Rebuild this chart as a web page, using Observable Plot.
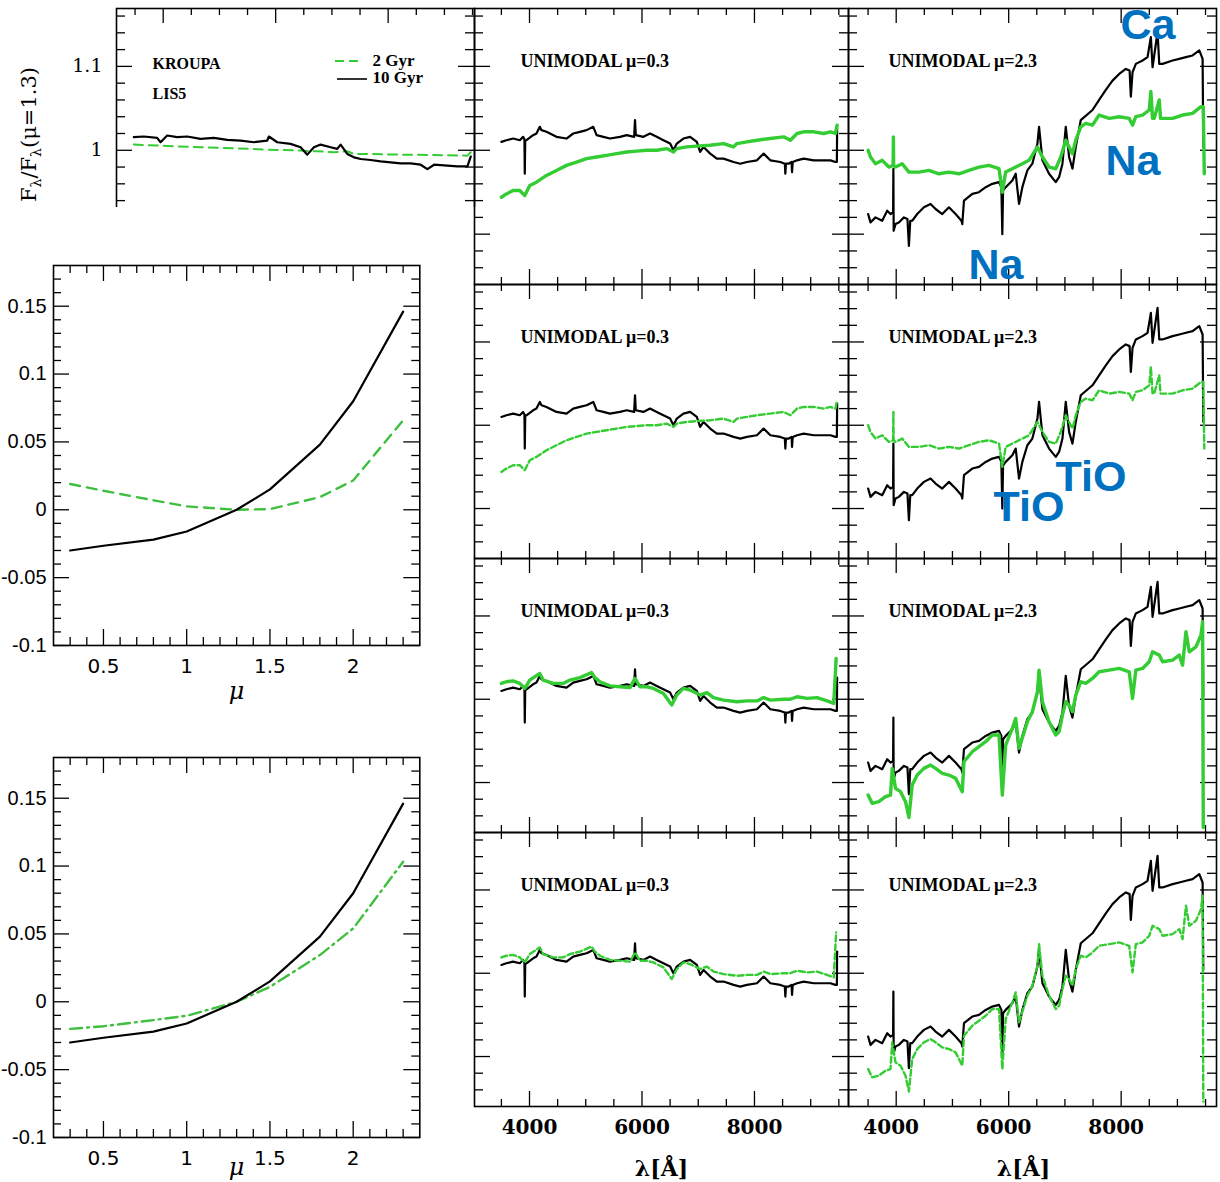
<!DOCTYPE html>
<html>
<head>
<meta charset="utf-8">
<script src="https://cdn.jsdelivr.net/npm/d3@7"></script>
<script src="https://cdn.jsdelivr.net/npm/@observablehq/plot@0.6"></script>
<style>
html, body { margin: 0; padding: 0; background: #fff; overflow: hidden; }
#page { position: relative; width: 1220px; height: 1182px; overflow: hidden; background: #fff; }
</style>
</head>
<body>
<div id="page"></div>
<script>
// ---------------- DATA ----------------
// IMF slopes (mu) and flux differences relative to mu = 1.3
const muValues = [0.3, 0.5, 0.8, 1.0, 1.3, 1.5, 1.8, 2.0, 2.3];
const mu10Gyr  = [-0.030, -0.0265, -0.022, -0.016, 0.0, 0.015, 0.048, 0.080, 0.146];
const mu2GyrA  = [0.019, 0.014, 0.007, 0.0025, 0.0, 0.0005, 0.0093, 0.0216, 0.066];
const mu2GyrB  = [-0.020, -0.018, -0.0135, -0.0103, 0.0, 0.011, 0.0344, 0.054, 0.1032];

// Top-left panel (Kroupa, LIS5): [wavelength, ratio]
const kroupa10Gyr = [[3478,1.0156],[3656,1.0164],[3893,1.0148],[3953,1.0096],[4071,1.0176],[4249,1.0156],[4427,1.0164],[4664,1.0136],[4901,1.0148],[5139,1.0124],[5376,1.0116],[5613,1.0096],[5850,1.0116],[5880,1.0164],[6028,1.0096],[6265,1.0076],[6443,1.0036],[6562,0.9948],[6680,1.0036],[6799,1.0068],[6977,1.0036],[7095,1.0016],[7155,1.0068],[7273,0.9956],[7392,0.9916],[7511,0.9896],[7688,0.9884],[7866,0.9868],[8044,0.9856],[8222,0.9844],[8400,0.9844],[8578,0.9828],[8697,0.9776],[8816,0.9828],[9054,0.9816],[9231,0.9808],[9409,0.9808],[9468,0.9924]];
const kroupa2Gyr = [[3478,1.0068],[4071,1.0052],[4664,1.0036],[5257,1.0024],[5850,1.0008],[6443,0.9996],[6740,0.9988],[7036,0.9976],[7273,0.9988],[7392,0.9956],[7629,0.9956],[8222,0.9948],[8815,0.9944],[9409,0.9936],[9468,0.9976]];

// Unimodal mu=0.3 column: 10 Gyr (black) and 2 Gyr (green, two model sets)
const col1Black = [[3500,1.010],[3589,1.012],[3708,1.014],[3827,1.012],[3886,1.016],[3910,1.013],[3916,0.972],[3924,1.011],[3946,1.012],[4064,1.018],[4124,1.020],[4183,1.028],[4213,1.024],[4302,1.022],[4480,1.016],[4658,1.014],[4777,1.020],[4896,1.022],[5015,1.024],[5134,1.028],[5193,1.018],[5312,1.016],[5431,1.014],[5609,1.016],[5728,1.018],[5860,1.016],[5876,1.036],[5890,1.018],[6025,1.016],[6143,1.020],[6262,1.016],[6381,1.012],[6500,1.008],[6559,1.000],[6619,1.008],[6737,1.014],[6856,1.016],[6975,1.010],[7034,0.998],[7094,1.004],[7213,0.996],[7331,0.990],[7450,0.990],[7628,0.986],[7747,0.984],[7866,0.986],[8044,0.988],[8163,0.996],[8282,0.988],[8460,0.986],[8540,0.984],[8549,0.972],[8560,0.984],[8608,0.984],[8660,0.986],[8668,0.974],[8680,0.986],[8757,0.988],[8876,0.990],[9054,0.988],[9232,0.988],[9351,0.988],[9440,0.986],[9465,0.986],[9470,1.026]];
const col1GreenA = [[3500,0.944],[3589,0.948],[3708,0.952],[3827,0.952],[3916,0.946],[4005,0.958],[4124,0.962],[4302,0.970],[4480,0.976],[4658,0.982],[4837,0.986],[5015,0.990],[5193,0.992],[5371,0.994],[5549,0.996],[5728,0.998],[5906,0.999],[6084,1.000],[6262,1.000],[6440,1.002],[6559,0.998],[6619,1.002],[6797,1.004],[6975,1.005],[7213,1.006],[7450,1.008],[7628,1.004],[7688,1.008],[7866,1.010],[8044,1.012],[8282,1.014],[8520,1.016],[8638,1.012],[8757,1.020],[8876,1.022],[9054,1.022],[9232,1.020],[9351,1.022],[9440,1.020],[9470,1.030]];
const col1GreenB = [[3500,1.019],[3589,1.021],[3708,1.022],[3827,1.019],[3916,1.013],[4005,1.023],[4183,1.031],[4242,1.023],[4421,1.019],[4599,1.019],[4718,1.023],[4896,1.026],[5104,1.032],[5163,1.026],[5252,1.021],[5431,1.016],[5609,1.015],[5787,1.014],[5876,1.025],[5965,1.015],[6084,1.015],[6203,1.013],[6381,1.007],[6530,0.993],[6619,1.005],[6737,1.013],[6856,1.011],[7034,1.005],[7153,1.008],[7272,1.002],[7450,0.999],[7688,0.997],[7866,0.998],[8044,0.998],[8163,1.002],[8282,0.999],[8520,1.000],[8638,1.000],[8757,1.003],[8935,1.001],[9113,1.002],[9291,0.998],[9410,0.995],[9440,1.033],[9452,1.049]];

// Unimodal mu=2.3 column
const col2Black = [[3501,0.924],[3543,0.914],[3632,0.920],[3751,0.916],[3840,0.928],[3899,0.924],[3945,0.926],[3950,0.978],[3955,0.904],[3988,0.912],[4047,0.914],[4137,0.920],[4200,0.918],[4226,0.886],[4250,0.916],[4285,0.916],[4374,0.924],[4493,0.932],[4611,0.936],[4700,0.930],[4819,0.924],[4938,0.932],[5056,0.924],[5160,0.916],[5175,0.912],[5205,0.940],[5353,0.948],[5472,0.950],[5591,0.956],[5709,0.960],[5828,0.962],[5870,0.956],[5887,0.900],[5900,0.952],[5947,0.956],[6065,0.964],[6125,0.972],[6184,0.936],[6243,0.956],[6332,0.976],[6421,0.984],[6511,1.008],[6540,1.028],[6600,0.988],[6718,0.972],[6837,0.962],[6896,0.968],[6956,0.984],[7015,1.028],[7074,0.992],[7134,0.978],[7193,1.004],[7282,1.036],[7490,1.048],[7608,1.060],[7727,1.072],[7846,1.083],[7965,1.091],[8083,1.097],[8150,1.095],[8172,1.064],[8202,1.093],[8261,1.103],[8380,1.107],[8469,1.111],[8528,1.135],[8558,1.099],[8647,1.141],[8677,1.103],[8736,1.103],[8914,1.107],[9033,1.109],[9152,1.111],[9270,1.113],[9389,1.119],[9448,1.109],[9460,1.004]];
const col2GreenA = [[3501,1.000],[3543,0.992],[3632,0.984],[3751,0.988],[3870,0.980],[3945,0.982],[3950,1.016],[3955,0.982],[3988,0.980],[4107,0.984],[4226,0.974],[4404,0.974],[4582,0.976],[4760,0.972],[4938,0.974],[5116,0.972],[5294,0.976],[5472,0.980],[5650,0.982],[5828,0.978],[5887,0.950],[5947,0.974],[6065,0.978],[6243,0.984],[6362,0.988],[6511,1.004],[6600,0.992],[6718,0.980],[6837,0.978],[6926,0.992],[7015,1.012],[7074,1.004],[7134,0.996],[7193,1.012],[7282,1.028],[7371,1.032],[7490,1.030],[7608,1.042],[7787,1.038],[7965,1.040],[8143,1.038],[8202,1.030],[8261,1.040],[8380,1.042],[8499,1.048],[8528,1.070],[8558,1.038],[8588,1.038],[8677,1.060],[8700,1.038],[8736,1.038],[8914,1.038],[9092,1.042],[9270,1.044],[9419,1.052],[9460,1.052],[9478,0.972]];
const col2GreenB = [[3501,0.885],[3572,0.875],[3691,0.877],[3810,0.883],[3899,0.885],[3929,0.917],[3988,0.893],[4077,0.889],[4166,0.877],[4226,0.858],[4285,0.897],[4374,0.909],[4493,0.917],[4611,0.921],[4700,0.917],[4819,0.911],[4938,0.909],[5056,0.905],[5175,0.889],[5205,0.925],[5353,0.937],[5472,0.943],[5591,0.949],[5709,0.957],[5828,0.957],[5887,0.885],[5947,0.945],[6065,0.965],[6125,0.977],[6184,0.941],[6332,0.973],[6421,0.985],[6511,1.009],[6540,1.035],[6600,0.997],[6718,0.973],[6837,0.957],[6896,0.961],[6956,0.981],[7015,0.997],[7074,0.993],[7134,0.985],[7193,1.005],[7282,1.021],[7371,1.019],[7490,1.025],[7608,1.033],[7787,1.035],[7965,1.037],[8143,1.033],[8202,1.001],[8261,1.035],[8380,1.037],[8499,1.045],[8558,1.057],[8677,1.053],[8736,1.045],[8914,1.047],[9033,1.053],[9092,1.041],[9152,1.081],[9211,1.057],[9330,1.063],[9419,1.077],[9448,1.093],[9460,0.846]];

// Blue line identifications (mu=2.3 column)
const lineNotes = [
  {row: 0, text: "Ca",  lambda: 7988, flux: 1.133},
  {row: 0, text: "Na",  lambda: 7721, flux: 0.970},
  {row: 0, text: "Na",  lambda: 5285, flux: 0.847},
  {row: 1, text: "TiO", lambda: 5730, flux: 0.885},
  {row: 1, text: "TiO", lambda: 6832, flux: 0.921}
];

// Ticks and labels
const specXMajor = [4000, 6000, 8000];
const specXLabels = ["4000", "6000", "8000"];
const specXMinor = [3500, 4500, 5000, 5500, 6500, 7000, 7500, 8500, 9000, 9500];
const specYMajor = [0.9, 1.0, 1.1];
const specYMinor = [0.86, 0.88, 0.92, 0.94, 0.96, 0.98, 1.02, 1.04, 1.06, 1.08, 1.12, 1.14, 1.16];
const topYTicks = [1.0, 1.1];
const topYLabels = ["1", "1.1"];
const muXMajor = [0.5, 1, 1.5, 2];
const muXLabels = ["0.5", "1", "1.5", "2"];
const muXMinor = [0.3, 0.4, 0.6, 0.7, 0.8, 0.9, 1.1, 1.2, 1.3, 1.4, 1.6, 1.7, 1.8, 1.9, 2.1, 2.2, 2.3];
const muYMajor = [-0.1, -0.05, 0, 0.05, 0.1, 0.15];
const muYLabels = ["-0.1", "-0.05", "0", "0.05", "0.1", "0.15"];
const muYMinor = [-0.09, -0.08, -0.07, -0.06, -0.04, -0.03, -0.02, -0.01, 0.01, 0.02, 0.03, 0.04, 0.06, 0.07, 0.08, 0.09, 0.11, 0.12, 0.13, 0.14, 0.16, 0.17];
const col1Label = "UNIMODAL μ=0.3";
const col2Label = "UNIMODAL μ=2.3";
const lambdaLabel = "λ[Å]";
const muLabel = "μ";
const legendTexts = ["2 Gyr", "10 Gyr"];
const modelTexts = ["KROUPA", "LIS5"];

// ---------------- LAYOUT ----------------
const page = document.getElementById("page");
const GREEN = "#33cc33";
const MUGREEN = "#3fbf3f";
const BLUE = "#0070c0";
const colX = [[474, 848], [848, 1216]];
const rowY = [[8, 284], [284, 558], [558, 832], [832, 1106]];
const colDomain = [[3022, 9672], [3152, 9695]];
const fluxDomain = [0.84, 1.169];
const baseStyle = {background: "transparent", overflow: "visible", color: "black"};

function place(node, left, top, parent = page) {
  node.style.position = "absolute";
  node.style.left = left + "px";
  node.style.top = top + "px";
  parent.appendChild(node);
  return node;
}

function tickMarks(xMaj, xMin, yMaj, yMin, iw, ih, L) {
  const o = {stroke: "black", strokeWidth: 1.3};
  return [
    Plot.tickX(xMaj, {x: d => d, insetBottom: ih - L.xMaj, ...o}),
    Plot.tickX(xMaj, {x: d => d, insetTop: ih - L.xMaj, ...o}),
    Plot.tickX(xMin, {x: d => d, insetBottom: ih - L.xMin, ...o}),
    Plot.tickX(xMin, {x: d => d, insetTop: ih - L.xMin, ...o}),
    Plot.tickY(yMaj, {y: d => d, insetRight: iw - L.yMaj, ...o}),
    Plot.tickY(yMaj, {y: d => d, insetLeft: iw - L.yMaj, ...o}),
    Plot.tickY(yMin, {y: d => d, insetRight: iw - L.yMin, ...o}),
    Plot.tickY(yMin, {y: d => d, insetLeft: iw - L.yMin, ...o})
  ];
}
const specLen = {xMaj: 15, xMin: 7, yMaj: 16, yMin: 9};
const muLen = {xMaj: 16, xMin: 8, yMaj: 16, yMin: 8};

// ---------- Top-left panel (clipped) ----------
(function () {
  const fx0 = 116, fx1 = 474, fy0 = 8, fy1 = 284;
  const iw = fx1 - fx0, ih = fy1 - fy0;
  const wrap = document.createElement("div");
  wrap.style.width = "480px";
  wrap.style.height = "207px";
  wrap.style.overflow = "hidden";
  place(wrap, 0, 0);
  const yLabelMap = new Map(topYTicks.map((d, i) => [d, topYLabels[i]]));
  const txt = {fontFamily: "Liberation Serif", fontWeight: "bold", fontSize: 16, textAnchor: "start", lineAnchor: "bottom", frameAnchor: "top-left", text: d => d};
  const svg = Plot.plot({
    width: fx0 + iw + 2, height: ih + 4,
    marginLeft: fx0, marginRight: 2, marginTop: 2, marginBottom: 2,
    x: {domain: [3170, 9535], axis: null},
    y: {domain: fluxDomain},
    style: {...baseStyle, fontFamily: "DejaVu Serif", fontSize: "19px"},
    marks: [
      ...tickMarks(specXMajor, specXMinor, specYMajor, specYMinor, iw, ih, specLen),
      Plot.axisY({ticks: topYTicks, tickSize: 0, tickPadding: 14, tickFormat: d => yLabelMap.get(d), fontSize: 19, fontFamily: "DejaVu Serif", label: null}),
      Plot.line(kroupa2Gyr, {x: d => d[0], y: d => d[1], stroke: GREEN, strokeWidth: 2, strokeDasharray: "9,6"}),
      Plot.line(kroupa10Gyr, {x: d => d[0], y: d => d[1], stroke: "black", strokeWidth: 2.2}),
      Plot.frame({stroke: "black", strokeWidth: 1.6}),
      Plot.text([modelTexts[0]], {...txt, dx: 36, dy: 60}),
      Plot.text([modelTexts[1]], {...txt, dx: 36, dy: 90}),
      Plot.text([legendTexts[0]], {...txt, fontSize: 17, dx: 256, dy: 57}),
      Plot.text([legendTexts[1]], {...txt, fontSize: 17, dx: 256, dy: 74})
    ]
  });
  place(svg, 0, 6, wrap);
  const s = d3.select(svg);
  // legend swatches
  s.append("line").attr("x1", 335).attr("x2", 363).attr("y1", 55).attr("y2", 55)
    .attr("stroke", GREEN).attr("stroke-width", 2).attr("stroke-dasharray", "9,5");
  s.append("line").attr("x1", 337).attr("x2", 367).attr("y1", 73).attr("y2", 73)
    .attr("stroke", "black").attr("stroke-width", 1.6);
  // rotated y label F_lambda / F_lambda(mu=1.3)
  const t = s.append("text").attr("transform", "translate(36,61) rotate(-90)")
    .attr("text-anchor", "end").attr("font-family", "DejaVu Serif").attr("font-size", 21).attr("fill", "black");
  t.append("tspan").text("F");
  t.append("tspan").attr("dy", 5).attr("font-size", 14).text("λ");
  t.append("tspan").attr("dy", -5).text("/F");
  t.append("tspan").attr("dy", 5).attr("font-size", 14).text("λ");
  t.append("tspan").attr("dy", -5).text("(μ=1.3)");
})();

// ---------- Spectral ratio panels ----------
function specPanel(col, row) {
  const [fx0, fx1] = colX[col], [fy0, fy1] = rowY[row];
  const iw = fx1 - fx0, ih = fy1 - fy0;
  const bottom = row === 3;
  const m = 2, mb = bottom ? 80 : 2;
  const green = col === 0 ? (row < 2 ? col1GreenA : col1GreenB) : (row < 2 ? col2GreenA : col2GreenB);
  const black = col === 0 ? col1Black : col2Black;
  const dashed = row % 2 === 1;
  const gOpts = {x: d => d[0], y: d => d[1], stroke: GREEN, strokeWidth: dashed ? 2.4 : 3.4};
  if (dashed) gOpts.strokeDasharray = "6,3";
  const marks = [
    ...tickMarks(specXMajor, specXMinor, specYMajor, specYMinor, iw, ih, specLen),
    Plot.line(black, {x: d => d[0], y: d => d[1], stroke: "black", strokeWidth: 2.2}),
    Plot.line(green, gOpts),
    Plot.frame({stroke: "black", strokeWidth: 1.6}),
    Plot.text([col === 0 ? col1Label : col2Label], {
      frameAnchor: "top-left", dx: col === 0 ? 46 : 40, dy: 58, lineAnchor: "bottom", textAnchor: "start",
      fontSize: 18, fontWeight: "bold", fontFamily: "Liberation Serif", text: d => d
    })
  ];
  if (col === 1) {
    const notes = lineNotes.filter(n => n.row === row);
    if (notes.length) marks.push(Plot.text(notes, {
      x: "lambda", y: "flux", text: "text", textAnchor: "start", lineAnchor: "bottom",
      fill: BLUE, fontSize: 43, fontWeight: "bold", fontFamily: "Liberation Sans"
    }));
  }
  const xScale = {domain: colDomain[col]};
  if (bottom) {
    const lm = new Map(specXMajor.map((d, i) => [d, specXLabels[i]]));
    marks.push(Plot.axisX({ticks: specXMajor, tickSize: 0, tickPadding: 13, tickFormat: d => lm.get(d),
      dx: col === 1 ? -5 : 0,
      fontSize: 20, fontWeight: "bold", fontFamily: "DejaVu Serif", label: null}));
    marks.push(Plot.text([lambdaLabel], {frameAnchor: "bottom", dx: col === 1 ? -9 : 0, dy: 69, lineAnchor: "bottom",
      fontSize: 22, fontWeight: "bold", fontFamily: "DejaVu Serif", text: d => d}));
  } else {
    xScale.axis = null;
  }
  const svg = Plot.plot({
    width: iw + 2 * m, height: ih + m + mb,
    marginLeft: m, marginRight: m, marginTop: m, marginBottom: mb,
    x: xScale, y: {domain: fluxDomain, axis: null},
    style: {...baseStyle, fontFamily: "DejaVu Serif", fontSize: "20px"},
    marks
  });
  place(svg, fx0 - m, fy0 - m);
}
for (let col = 0; col < 2; col++) for (let row = 0; row < 4; row++) specPanel(col, row);

// ---------- mu panels ----------
function muPanel(top, greenVals, dash, muDy) {
  const fx0 = 52.7, fx1 = 419, iw = fx1 - fx0, ih = 380;
  const ml = 62, mr = 2, mt = 2, mb = 62;
  const blackRows = muValues.map((mu, i) => ({mu, v: mu10Gyr[i]}));
  const greenRows = muValues.map((mu, i) => ({mu, v: greenVals[i]}));
  const xl = new Map(muXMajor.map((d, i) => [d, muXLabels[i]]));
  const yl = new Map(muYMajor.map((d, i) => [d, muYLabels[i]]));
  const svg = Plot.plot({
    width: ml + iw + mr, height: mt + ih + mb,
    marginLeft: ml, marginRight: mr, marginTop: mt, marginBottom: mb,
    x: {domain: [0.2, 2.4]}, y: {domain: [-0.1, 0.18]},
    style: {...baseStyle, fontFamily: "Liberation Sans", fontSize: "20px"},
    marks: [
      ...tickMarks(muXMajor, muXMinor, muYMajor, muYMinor, iw, ih, muLen),
      Plot.line(greenRows, {x: "mu", y: "v", stroke: MUGREEN, strokeWidth: 2.4, strokeDasharray: dash}),
      Plot.line(blackRows, {x: "mu", y: "v", stroke: "black", strokeWidth: 2.2}),
      Plot.frame({stroke: "black", strokeWidth: 1.6}),
      Plot.axisX({ticks: muXMajor, tickSize: 0, tickPadding: 13, tickFormat: d => xl.get(d), fontSize: 20, fontFamily: "DejaVu Sans", label: null}),
      Plot.axisY({ticks: muYMajor, tickSize: 0, tickPadding: 7, tickFormat: d => yl.get(d), fontSize: 20, fontFamily: "Liberation Sans", label: null}),
      Plot.text([muLabel], {frameAnchor: "bottom", dy: muDy, lineAnchor: "bottom", fontSize: 24, fontStyle: "italic", fontFamily: "DejaVu Serif", text: d => d})
    ]
  });
  place(svg, fx0 - ml, top - mt);
}
muPanel(265, mu2GyrA, "10,7", 54);
muPanel(756.7, mu2GyrB, "12,5,2,5", 38);
</script>
</body>
</html>
